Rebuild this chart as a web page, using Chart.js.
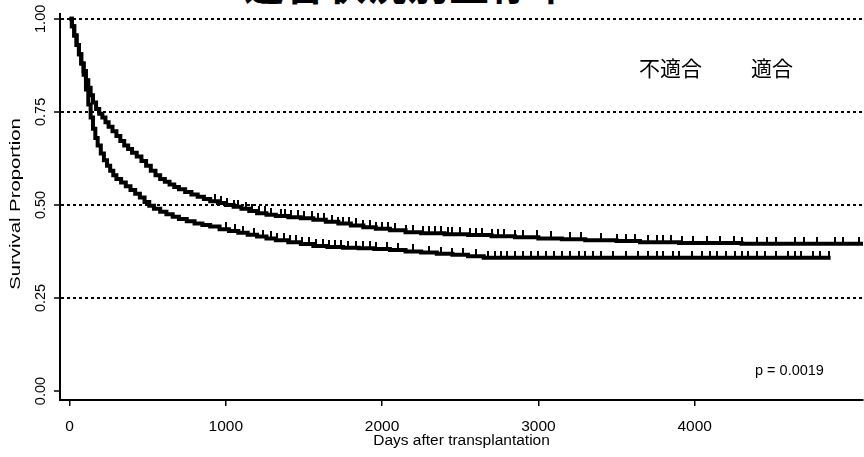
<!DOCTYPE html>
<html lang="ja">
<head>
<meta charset="UTF-8">
<title>生存曲線</title>
<script src="https://cdn.jsdelivr.net/npm/chart.js"></script>
<style>
  body { margin: 0; background: #fff; }
  .wrap { position: relative; width: 864px; height: 457px; overflow: hidden; }
  .titulo { position: absolute; left: 244px; top: -46px; font: bold 40px "Noto Sans CJK JP"; color: #000; letter-spacing: 1px; white-space: nowrap; }
  canvas { position: absolute; left: 0; top: 0; }
</style>
</head>
<body>
<div class="wrap">
  <div class="titulo">適合状況別生存率</div>
  <canvas id="km" width="871" height="457"></canvas>
</div>

<script>
// dados
const grupos = ['不適合', '適合'];

// curva de cima: dias e sobrevivência
const diasA = [0, 15, 30, 45, 60, 75, 90, 105, 120, 135, 150, 170, 190, 210, 230, 250, 275, 300, 325, 350, 375, 400, 430, 460, 490, 520, 550, 580, 610, 640, 670, 700, 740, 780, 820, 860, 900, 950, 1000, 1050, 1100, 1150, 1200, 1260, 1320, 1400, 1480, 1560, 1640, 1720, 1800, 1880, 1960, 2050, 2150, 2250, 2400, 2550, 2700, 2850, 3000, 3150, 3300, 3500, 3650, 3900, 4300, 5100];
const survA = [1.0, 0.98, 0.955, 0.93, 0.905, 0.88, 0.86, 0.835, 0.815, 0.795, 0.775, 0.758, 0.745, 0.735, 0.722, 0.71, 0.698, 0.685, 0.672, 0.66, 0.65, 0.64, 0.63, 0.618, 0.605, 0.592, 0.58, 0.57, 0.562, 0.555, 0.548, 0.542, 0.535, 0.528, 0.522, 0.516, 0.51, 0.505, 0.50, 0.495, 0.49, 0.484, 0.478, 0.474, 0.47, 0.467, 0.464, 0.46, 0.455, 0.45, 0.445, 0.44, 0.436, 0.432, 0.427, 0.424, 0.421, 0.419, 0.416, 0.413, 0.41, 0.408, 0.405, 0.403, 0.40, 0.398, 0.396, 0.396];

// curva de baixo
const diasB = [0, 15, 30, 45, 60, 75, 90, 105, 120, 135, 150, 165, 180, 200, 220, 240, 260, 280, 300, 330, 360, 390, 420, 450, 480, 510, 540, 580, 620, 660, 700, 750, 800, 850, 900, 960, 1020, 1080, 1140, 1200, 1260, 1320, 1400, 1480, 1560, 1650, 1750, 1850, 1950, 2050, 2150, 2250, 2350, 2450, 2550, 2650, 4870];
const survB = [1.0, 0.98, 0.955, 0.93, 0.905, 0.88, 0.85, 0.81, 0.77, 0.735, 0.705, 0.68, 0.66, 0.638, 0.62, 0.605, 0.592, 0.58, 0.57, 0.56, 0.55, 0.54, 0.53, 0.52, 0.508, 0.498, 0.49, 0.482, 0.475, 0.468, 0.462, 0.456, 0.45, 0.446, 0.442, 0.435, 0.43, 0.425, 0.42, 0.415, 0.41, 0.405, 0.40, 0.395, 0.39, 0.387, 0.385, 0.384, 0.382, 0.379, 0.375, 0.372, 0.369, 0.366, 0.362, 0.358, 0.358];

// censuras (dias)
const censA = [930, 970, 1010, 1050, 1080, 1130, 1170, 1210, 1250, 1290, 1350, 1380, 1420, 1460, 1500, 1550, 1590, 1630, 1680, 1720, 1750, 1790, 1830, 1880, 1920, 1960, 2000, 2040, 2080, 2150, 2200, 2260, 2300, 2340, 2380, 2420, 2450, 2500, 2560, 2600, 2640, 2700, 2740, 2780, 2850, 2900, 2990, 3080, 3200, 3270, 3400, 3500, 3560, 3620, 3700, 3760, 3800, 3850, 3920, 3990, 4080, 4160, 4250, 4300, 4400, 4460, 4520, 4640, 4700, 4780, 4900, 4950, 5050];
const censB = [1000, 1060, 1110, 1180, 1240, 1290, 1330, 1370, 1410, 1450, 1490, 1530, 1580, 1620, 1660, 1700, 1740, 1780, 1830, 1880, 1920, 1960, 2030, 2100, 2200, 2300, 2380, 2450, 2520, 2600, 2680, 2720, 2760, 2800, 2850, 2900, 2950, 3000, 3050, 3100, 3150, 3200, 3260, 3300, 3350, 3400, 3480, 3560, 3640, 3700, 3760, 3800, 3860, 3900, 3980, 4050, 4100, 4140, 4200, 4260, 4300, 4340, 4400, 4450, 4520, 4600, 4640, 4680, 4760, 4800, 4860];

const ticksX = [0, 1000, 2000, 3000, 4000];
const ticksY = [0, 0.25, 0.5, 0.75, 1];
const ticksYLabels = ['0.00', '0.25', '0.50', '0.75', '1.00'];
const pValor = 'p = 0.0019';

function pontos(dias, surv) {
    return dias.map((d, i) => ({ x: d, y: surv[i] }));
}

// valor do degrau no tempo da censura
function valorEm(dias, surv, t) {
    let v = surv[0];
    for (let i = 0; i < dias.length; i++) {
        if (dias[i] <= t) v = surv[i];
    }
    return v;
}

function censuras(cens, dias, surv) {
    return cens.map(t => ({ x: t, y: valorEm(dias, surv, t) }));
}

// marca de censura: traço para cima
const marca = document.createElement('canvas');
marca.width = 2;
marca.height = 14;
const mctx = marca.getContext('2d');
mctx.fillStyle = '#000';
mctx.fillRect(0, 0, 2, 7);

const textosExtras = {
    id: 'textosExtras',
    afterDraw(chart) {
        const ctx = chart.ctx;
        const y = chart.scales.y;
        ctx.save();
        ctx.fillStyle = '#000';
        ctx.textAlign = 'center';
        ctx.textBaseline = 'middle';
        // rótulos do eixo y
        ctx.font = '14.5px "Liberation Sans"';
        ticksY.forEach((v, i) => {
            ctx.save();
            ctx.translate(41, y.getPixelForValue(v));
            ctx.rotate(-Math.PI / 2);
            ctx.fillText(ticksYLabels[i], 0, 0);
            ctx.restore();
        });
        // título do eixo y
        ctx.save();
        ctx.translate(16, 204);
        ctx.rotate(-Math.PI / 2);
        ctx.scale(1.45, 1);
        ctx.font = '14px "Liberation Sans"';
        ctx.fillText('Survival Proportion', 0, 0);
        ctx.restore();
        // legenda
        ctx.font = '21px "Noto Sans CJK JP"';
        ctx.textAlign = 'left';
        ctx.fillText(grupos[0], 639, 68);
        ctx.fillText(grupos[1], 751, 68);
        // p
        ctx.font = '14.5px "Liberation Sans"';
        ctx.fillText(pValor, 755, 371);
        ctx.restore();
    }
};

const ctx = document.getElementById('km').getContext('2d');
new Chart(ctx, {
    type: 'line',
    data: {
        datasets: [
            {
                label: grupos[1],
                data: pontos(diasA, survA),
                stepped: 'before',
                borderColor: '#000',
                borderWidth: 4,
                pointRadius: 0,
                fill: false
            },
            {
                label: grupos[0],
                data: pontos(diasB, survB),
                stepped: 'before',
                borderColor: '#000',
                borderWidth: 4,
                pointRadius: 0,
                fill: false
            },
            {
                type: 'scatter',
                data: censuras(censA, diasA, survA),
                pointStyle: marca,
                radius: 7
            },
            {
                type: 'scatter',
                data: censuras(censB, diasB, survB),
                pointStyle: marca,
                radius: 7
            }
        ]
    },
    options: {
        responsive: false,
        animation: false,
        layout: { padding: { top: 14, right: 0, left: 0, bottom: 0 } },
        plugins: {
            legend: { display: false },
            tooltip: { enabled: false }
        },
        scales: {
            x: {
                type: 'linear',
                min: -61,
                max: 5077,
                afterBuildTicks: s => { s.ticks = ticksX.map(v => ({ value: v })); },
                afterFit: s => { s.height = 57; },
                border: { display: true, color: '#000', width: 2 },
                grid: { drawOnChartArea: false, color: '#000', tickColor: '#000', tickLength: 6, lineWidth: 1.5 },
                ticks: {
                    color: '#000',
                    padding: 11,
                    maxRotation: 0,
                    callback: v => String(v),
                    font: { family: '"Liberation Sans"', size: 15.5 }
                },
                title: {
                    display: true,
                    text: 'Days after transplantation',
                    color: '#000',
                    padding: { top: 0, bottom: 7 },
                    font: { family: '"Liberation Sans"', size: 15.5 }
                }
            },
            y: {
                type: 'linear',
                min: -0.024,
                max: 1.013,
                afterBuildTicks: s => { s.ticks = ticksY.map(v => ({ value: v })); },
                afterFit: s => { s.width = 60; },
                border: { display: true, color: '#000', width: 2, dash: [3, 3] },
                grid: {
                    drawOnChartArea: true,
                    color: c => (c.tick && c.tick.value > 0) ? '#000' : 'rgba(0,0,0,0)',
                    lineWidth: 2,
                    tickColor: '#000',
                    tickLength: 6,
                    tickBorderDash: [],
                    tickWidth: 1.5
                },
                ticks: { display: false },
                title: { display: false }
            }
        }
    },
    plugins: [textosExtras]
});
</script>
</body>
</html>
